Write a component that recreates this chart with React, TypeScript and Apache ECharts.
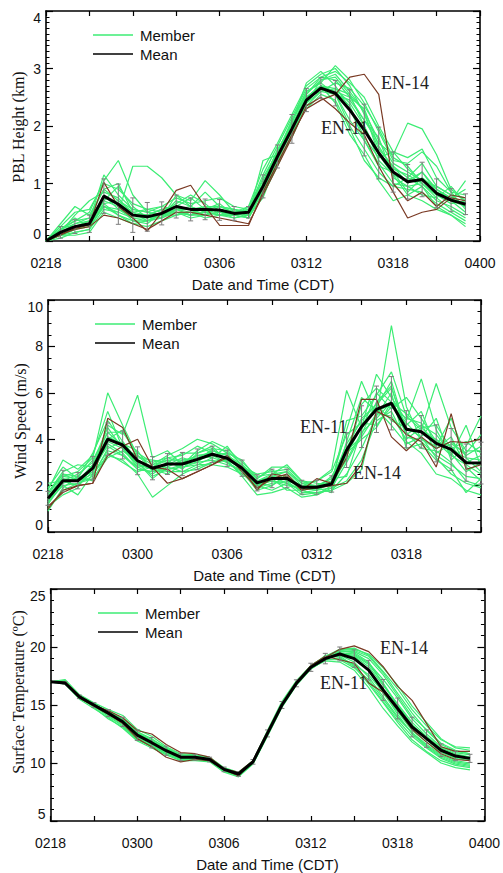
import React, { useEffect, useRef } from "react";
import * as echarts from "echarts";

// ---------- tick labels ----------
const tickHours = [0, 6, 12, 18, 24, 30];
const tickLabels = ["0218", "0300", "0306", "0312", "0318", "0400"];

// ---------- Panel 1 : PBL Height (km) ----------
const pblMean = [0, 0.15, 0.25, 0.3, 0.78, 0.64, 0.45, 0.42, 0.48, 0.6, 0.55, 0.55, 0.54, 0.48, 0.5, 0.95, 1.47, 1.95, 2.45, 2.66, 2.57, 2.28, 1.93, 1.53, 1.2, 1.03, 1.07, 0.83, 0.71, 0.64];
const pblStd = [0, 0.1, 0.12, 0.15, 0.3, 0.35, 0.3, 0.25, 0.2, 0.2, 0.2, 0.18, 0.18, 0.12, 0.1, 0.2, 0.2, 0.25, 0.2, 0.18, 0.22, 0.35, 0.45, 0.45, 0.35, 0.3, 0.3, 0.25, 0.2, 0.18];
const pblEN11 = [0, 0.12, 0.2, 0.25, 0.45, 0.4, 0.3, 0.2, 0.35, 0.5, 0.5, 0.45, 0.4, 0.35, 0.3, 0.8, 1.3, 1.8, 2.35, 2.5, 2.3, 2.05, 1.85, 1.3, 0.85, 0.4, 0.5, 0.55, 0.75, 0.7];
const pblEN14 = [0, 0.1, 0.22, 0.28, 1.02, 0.6, 0.4, 0.17, 0.5, 0.88, 0.97, 0.6, 0.27, 0.27, 0.27, 0.85, 1.35, 1.85, 2.3, 2.45, 2.55, 2.85, 2.9, 2.55, 1.0, 0.7, 0.85, 0.6, 0.8, 0.75];
const pblMembers = [
  [0, 0.2, 0.35, 0.5, 1.05, 1.4, 0.8, 0.5, 0.45, 0.7, 0.6, 0.5, 0.55, 0.45, 0.6, 1.25, 1.7, 2.2, 2.7, 2.9, 3.0, 2.7, 2.2, 1.6, 1.3, 1.0, 1.2, 0.9, 0.75, 0.6],
  [0, 0.1, 0.2, 0.25, 0.6, 0.5, 1.3, 1.3, 1.1, 0.8, 0.6, 0.5, 0.55, 0.5, 0.45, 0.9, 1.4, 2.0, 2.55, 2.85, 2.8, 2.5, 2.1, 1.7, 1.5, 2.05, 1.95, 1.5, 0.9, 0.7],
  [0, 0.3, 0.6, 0.45, 0.9, 1.0, 0.5, 0.35, 0.4, 0.8, 0.7, 1.05, 0.8, 0.5, 0.45, 1.4, 1.5, 2.1, 2.6, 2.75, 3.05, 2.8, 2.4, 1.9, 1.4, 1.35, 1.55, 1.3, 0.85, 0.55],
  [0, 0.15, 0.45, 0.7, 0.85, 0.75, 0.45, 0.45, 0.55, 0.5, 0.45, 0.6, 0.5, 0.45, 0.4, 0.8, 1.3, 1.85, 2.4, 2.7, 2.55, 2.0, 1.6, 1.2, 0.95, 1.1, 0.95, 0.7, 0.6, 0.45],
  [0, 0.05, 0.15, 0.2, 0.55, 0.5, 0.4, 0.35, 0.5, 0.5, 0.4, 0.45, 0.6, 0.5, 0.5, 0.95, 1.5, 1.9, 2.4, 2.8, 2.9, 2.6, 2.25, 1.5, 1.15, 0.8, 0.95, 0.6, 0.45, 0.25],
  [0, 0.25, 0.25, 0.3, 0.7, 0.6, 0.35, 0.3, 0.5, 0.65, 0.8, 0.65, 0.45, 0.5, 0.6, 1.05, 1.55, 2.05, 2.75, 2.95, 2.7, 2.3, 1.75, 1.3, 1.2, 0.85, 1.1, 0.9, 0.7, 1.05],
  [0, 0.2, 0.3, 0.35, 1.15, 0.8, 0.55, 0.5, 0.6, 0.55, 0.5, 0.55, 0.65, 0.45, 0.55, 1.0, 1.6, 2.0, 2.5, 2.6, 2.55, 2.45, 2.1, 1.8, 1.1, 0.95, 0.8, 0.75, 0.95, 0.65],
  [0, 0.1, 0.15, 0.2, 0.65, 0.45, 0.3, 0.25, 0.35, 0.45, 0.5, 0.4, 0.45, 0.4, 0.45, 0.85, 1.35, 1.8, 2.35, 2.6, 2.75, 2.65, 2.35, 1.95, 1.45, 1.3, 1.0, 0.75, 0.55, 0.4],
  [0, 0.15, 0.25, 0.35, 0.7, 0.95, 0.6, 0.4, 0.45, 0.55, 0.6, 0.85, 0.6, 0.55, 0.5, 1.1, 1.55, 2.1, 2.55, 2.8, 2.85, 2.55, 2.0, 1.5, 1.3, 1.1, 1.35, 0.95, 0.8, 0.75],
  [0, 0.1, 0.2, 0.3, 0.8, 0.55, 0.45, 0.45, 0.4, 0.55, 0.45, 0.5, 0.5, 0.55, 0.45, 0.75, 1.4, 1.9, 2.3, 2.55, 2.45, 1.95, 1.4, 1.1, 0.95, 0.9, 0.85, 0.65, 0.5, 0.35],
  [0, 0.2, 0.35, 0.4, 0.9, 0.7, 0.5, 0.55, 0.5, 0.6, 0.55, 0.6, 0.6, 0.5, 0.55, 1.0, 1.5, 2.0, 2.5, 2.7, 2.6, 2.35, 1.8, 1.45, 1.55, 1.25, 1.05, 0.85, 0.7, 0.6],
  [0, 0.1, 0.2, 0.3, 0.65, 0.7, 0.55, 0.5, 0.45, 0.55, 0.55, 0.45, 0.5, 0.5, 0.4, 0.95, 1.45, 1.95, 2.45, 2.65, 2.6, 2.5, 2.3, 1.65, 1.25, 1.15, 1.0, 0.8, 0.65, 0.7],
  [0, 0.2, 0.4, 0.25, 0.6, 0.45, 0.35, 0.35, 0.45, 0.5, 0.45, 0.5, 0.45, 0.45, 0.5, 0.9, 1.45, 2.05, 2.6, 2.75, 2.55, 2.1, 1.75, 1.35, 1.0, 0.95, 1.0, 0.8, 0.7, 0.5],
  [0, 0.1, 0.1, 0.15, 0.5, 0.4, 0.3, 0.35, 0.4, 0.5, 0.45, 0.45, 0.5, 0.4, 0.45, 0.85, 1.5, 1.9, 2.4, 2.6, 2.65, 2.4, 2.0, 1.4, 1.15, 1.05, 1.2, 0.85, 0.75, 0.9],
  [0, 0.25, 0.5, 0.55, 1.0, 0.9, 0.65, 0.55, 0.6, 0.75, 0.65, 0.7, 0.75, 0.6, 0.55, 1.15, 1.65, 2.15, 2.65, 2.85, 2.95, 2.75, 2.5, 2.0, 1.55, 1.45, 1.6, 1.1, 0.85, 0.8],
  [0, 0.1, 0.25, 0.3, 0.6, 0.55, 0.4, 0.4, 0.45, 0.45, 0.5, 0.5, 0.45, 0.45, 0.4, 0.9, 1.4, 1.95, 2.5, 2.7, 2.4, 1.85, 1.5, 1.05, 0.7, 0.8, 0.7, 0.55, 0.45, 0.3],
  [0, 0.15, 0.3, 0.4, 0.75, 0.65, 0.5, 0.45, 0.55, 0.6, 0.75, 0.55, 0.6, 0.55, 0.5, 1.0, 1.55, 2.0, 2.5, 2.7, 2.65, 2.55, 2.25, 1.75, 1.35, 1.2, 1.05, 0.95, 0.8, 0.6],
];

// ---------- Panel 2 : Wind Speed (m/s) ----------
const windMean = [1.45, 2.21, 2.21, 2.75, 4.0, 3.75, 3.07, 2.75, 2.93, 2.93, 3.13, 3.35, 3.18, 2.75, 2.12, 2.31, 2.31, 1.93, 1.93, 2.07, 3.53, 4.54, 5.29, 5.55, 4.43, 4.32, 3.82, 3.56, 2.99, 2.97];
const windStd = [0.3, 0.45, 0.35, 0.5, 0.7, 0.6, 0.6, 0.5, 0.45, 0.5, 0.45, 0.35, 0.35, 0.35, 0.35, 0.4, 0.4, 0.3, 0.3, 0.35, 0.75, 0.9, 1.0, 1.15, 0.8, 0.7, 0.8, 0.9, 0.8, 0.9];
const windEN11 = [1.0, 1.8, 2.0, 2.1, 4.9, 4.5, 3.1, 2.8, 2.7, 2.3, 2.6, 2.9, 3.3, 2.6, 1.9, 2.3, 2.5, 1.8, 2.3, 2.1, 3.2, 5.72, 5.72, 4.1, 3.5, 4.1, 3.6, 3.9, 3.85, 4.0];
const windEN14 = [1.1, 1.7, 2.0, 2.1, 3.3, 3.7, 4.0, 2.8, 2.1, 2.3, 2.6, 2.9, 3.2, 2.8, 1.8, 2.5, 2.4, 1.8, 1.9, 2.0, 2.1, 2.9, 5.2, 4.9, 4.2, 3.9, 2.8, 5.1, 2.7, 2.9];
const windMembers = [
  [1.2, 2.4, 2.6, 3.2, 6.0, 4.6, 3.3, 2.9, 3.1, 2.7, 3.4, 3.6, 3.0, 2.6, 2.0, 2.4, 2.1, 1.8, 1.9, 2.2, 4.4, 6.5, 5.0, 8.9, 5.4, 4.0, 3.7, 4.9, 3.2, 2.6],
  [1.9, 2.8, 2.3, 2.7, 4.6, 4.2, 5.9, 3.2, 3.5, 2.9, 3.0, 3.6, 3.5, 2.9, 2.3, 2.7, 2.2, 2.0, 2.2, 2.7, 6.1, 4.5, 6.8, 5.8, 4.8, 6.6, 4.4, 3.3, 4.6, 2.8],
  [1.5, 2.0, 1.6, 2.5, 3.3, 3.1, 2.5, 1.5, 2.0, 2.5, 2.8, 3.0, 3.1, 2.4, 1.6, 1.7, 1.9, 1.5, 1.6, 1.9, 2.2, 3.1, 4.8, 5.2, 3.9, 3.4, 2.5, 2.3, 1.8, 1.6],
  [2.1, 2.2, 2.5, 3.0, 4.5, 3.6, 2.8, 2.9, 3.3, 3.6, 4.0, 3.8, 3.4, 3.1, 2.3, 2.8, 2.8, 2.2, 2.1, 2.0, 3.2, 5.5, 6.2, 5.6, 4.6, 5.2, 3.6, 3.9, 3.3, 3.7],
  [1.0, 1.8, 2.1, 2.4, 3.6, 3.9, 3.0, 2.4, 2.7, 2.8, 2.9, 3.2, 3.0, 2.6, 1.8, 2.0, 2.4, 1.7, 1.8, 1.9, 3.0, 4.2, 5.6, 6.3, 4.1, 3.9, 3.3, 2.9, 2.4, 2.3],
  [1.6, 2.5, 2.4, 3.1, 4.3, 4.3, 3.4, 3.0, 3.2, 3.3, 3.7, 3.4, 3.2, 2.8, 2.5, 2.6, 2.7, 2.1, 2.0, 2.1, 4.8, 5.0, 5.9, 6.9, 5.0, 4.4, 6.4, 4.5, 3.5, 3.5],
  [1.3, 2.2, 2.0, 2.6, 3.8, 3.4, 2.7, 2.6, 2.8, 3.1, 3.2, 3.3, 3.4, 2.6, 2.0, 2.2, 2.0, 1.9, 1.8, 2.1, 3.4, 4.0, 4.5, 5.6, 4.2, 4.6, 4.2, 3.4, 2.6, 3.0],
  [1.8, 3.1, 2.7, 3.3, 5.2, 3.6, 2.9, 2.7, 2.5, 2.9, 3.5, 3.9, 3.6, 3.0, 2.4, 2.5, 2.9, 2.2, 1.9, 2.4, 3.6, 4.9, 5.5, 4.8, 4.5, 4.1, 4.9, 3.1, 3.7, 5.0],
  [1.1, 1.6, 1.9, 2.9, 4.1, 3.8, 3.5, 2.6, 3.0, 2.8, 3.0, 3.1, 2.9, 2.7, 1.9, 2.1, 2.2, 1.7, 1.7, 1.8, 2.5, 3.6, 5.0, 6.0, 3.6, 3.8, 3.1, 2.7, 1.7, 2.3],
  [1.4, 2.3, 2.2, 2.5, 3.5, 3.3, 2.8, 2.5, 2.9, 3.2, 3.0, 3.5, 3.3, 2.9, 2.2, 2.4, 2.3, 2.0, 1.9, 1.7, 3.9, 5.8, 5.2, 5.5, 4.7, 4.0, 3.6, 4.1, 2.8, 2.2],
  [1.7, 2.6, 2.9, 2.8, 4.0, 4.4, 3.2, 3.1, 3.0, 3.4, 3.4, 3.7, 3.0, 2.5, 2.1, 2.0, 2.5, 1.9, 2.0, 2.3, 2.4, 4.4, 6.0, 5.3, 5.8, 4.9, 3.9, 3.7, 3.0, 3.3],
  [0.9, 1.9, 2.4, 2.2, 3.4, 3.0, 2.6, 2.8, 2.6, 2.6, 2.7, 3.0, 3.2, 2.7, 1.9, 2.3, 1.8, 1.8, 1.6, 2.0, 3.3, 4.6, 5.4, 6.5, 4.3, 3.6, 3.5, 3.0, 2.2, 2.0],
  [1.5, 2.4, 2.3, 3.4, 4.8, 3.9, 3.1, 2.8, 3.2, 3.0, 3.3, 3.2, 3.7, 2.8, 2.2, 2.5, 2.6, 2.1, 2.2, 2.6, 4.2, 4.7, 4.6, 5.4, 4.9, 4.7, 3.4, 3.8, 3.4, 4.2],
  [1.3, 2.0, 2.1, 2.3, 3.2, 3.5, 3.0, 2.3, 2.8, 2.6, 2.9, 2.9, 2.8, 2.5, 2.0, 1.8, 2.1, 1.6, 1.7, 1.8, 2.1, 2.7, 5.3, 4.6, 3.8, 4.1, 3.2, 2.5, 2.1, 1.9],
  [1.2, 2.1, 2.3, 2.6, 3.9, 3.6, 3.3, 2.7, 2.9, 3.0, 3.3, 3.4, 3.1, 2.7, 2.0, 2.3, 2.3, 1.9, 1.8, 2.2, 3.8, 4.8, 5.5, 6.2, 4.4, 4.3, 4.0, 3.5, 3.2, 3.1],
  [1.7, 2.5, 2.2, 2.9, 4.3, 3.7, 2.9, 2.8, 3.1, 3.1, 3.2, 3.5, 3.3, 2.8, 2.2, 2.4, 2.6, 2.0, 2.0, 2.2, 3.1, 4.3, 4.9, 5.6, 5.1, 4.5, 4.6, 3.6, 3.9, 3.4],
  [1.4, 2.2, 2.0, 2.8, 3.7, 3.3, 2.7, 2.6, 2.7, 2.9, 3.1, 3.3, 3.0, 2.6, 2.1, 2.2, 2.1, 1.8, 1.9, 2.1, 3.5, 4.1, 5.1, 5.0, 4.0, 4.5, 3.9, 3.3, 2.9, 2.5],
];

// ---------- Panel 3 : Surface Temperature (ºC) ----------
const tempMean = [17.0, 16.9, 15.7, 15.0, 14.3, 13.55, 12.4, 11.75, 11.06, 10.5, 10.5, 10.3, 9.45, 9.05, 10.1, 12.55, 15.0, 16.87, 18.25, 19.0, 19.4, 19.0, 18.0, 16.3, 14.7, 13.1, 12.1, 11.1, 10.6, 10.4];
const tempStd = [0, 0.1, 0.15, 0.2, 0.3, 0.4, 0.45, 0.45, 0.4, 0.3, 0.25, 0.2, 0.2, 0.2, 0.2, 0.3, 0.3, 0.3, 0.35, 0.45, 0.6, 0.75, 0.85, 0.9, 0.9, 0.85, 0.75, 0.55, 0.4, 0.35];
const tempEN11 = [17.0, 17.0, 15.8, 15.0, 14.5, 13.9, 12.8, 12.5, 11.6, 10.9, 10.8, 10.5, 9.5, 9.2, 10.2, 12.7, 15.1, 17.0, 18.4, 19.2, 18.9, 18.6, 16.9, 16.1, 14.6, 12.9, 11.8, 10.8, 10.3, 10.2];
const tempEN14 = [17.0, 16.9, 15.6, 14.9, 14.2, 13.4, 12.1, 11.4, 10.5, 10.1, 10.3, 10.2, 9.4, 8.9, 10.2, 12.6, 15.0, 16.8, 18.2, 19.1, 19.8, 20.1, 19.6, 18.3, 16.6, 15.4, 13.4, 11.4, 11.0, 11.0];
const tempMembers = [
  [17.0, 17.2, 15.9, 15.2, 14.6, 14.1, 12.9, 12.3, 11.4, 10.8, 10.7, 10.5, 9.6, 9.2, 10.2, 12.8, 15.3, 17.1, 18.4, 19.2, 19.8, 19.9, 19.3, 17.9, 16.4, 14.6, 13.2, 12.0, 11.4, 11.3],
  [17.0, 17.0, 15.8, 15.1, 14.4, 13.4, 12.2, 11.6, 10.9, 10.4, 10.4, 10.2, 9.3, 8.9, 10.0, 12.4, 14.9, 16.8, 18.2, 19.3, 19.1, 18.3, 16.8, 15.2, 13.5, 12.0, 11.0, 10.2, 9.8, 9.6],
  [17.0, 16.8, 15.5, 14.7, 13.9, 13.0, 11.9, 11.3, 10.7, 10.2, 10.2, 10.1, 9.2, 8.8, 9.9, 12.3, 14.8, 16.7, 18.1, 18.9, 19.5, 19.4, 18.6, 17.2, 15.6, 13.8, 12.5, 11.4, 10.9, 10.7],
  [17.0, 17.1, 15.8, 15.0, 14.2, 13.7, 12.6, 11.9, 11.2, 10.6, 10.6, 10.4, 9.5, 9.1, 10.2, 12.6, 15.1, 16.9, 18.3, 19.1, 19.3, 18.7, 17.4, 15.7, 14.0, 12.6, 11.6, 10.7, 10.2, 10.0],
  [17.0, 16.9, 15.6, 14.9, 14.5, 13.8, 12.7, 12.0, 11.3, 10.7, 10.6, 10.4, 9.5, 9.0, 10.1, 12.6, 15.0, 16.9, 18.2, 19.0, 19.6, 19.6, 19.0, 17.6, 15.8, 14.0, 12.9, 11.7, 11.1, 10.8],
  [17.0, 16.9, 15.7, 14.8, 13.8, 13.1, 12.0, 11.4, 10.8, 10.3, 10.3, 10.2, 9.4, 8.9, 10.0, 12.5, 14.9, 16.8, 18.2, 18.8, 18.7, 18.0, 16.5, 14.7, 13.2, 11.8, 10.9, 10.0, 9.6, 9.4],
  [17.0, 17.0, 15.8, 15.1, 14.3, 13.6, 12.5, 11.8, 11.1, 10.6, 10.5, 10.3, 9.5, 9.1, 10.1, 12.5, 15.0, 16.9, 18.3, 19.1, 19.4, 19.2, 18.3, 16.7, 15.1, 13.5, 12.3, 11.3, 10.8, 10.5],
  [17.0, 16.9, 15.6, 15.0, 14.4, 13.6, 12.3, 11.6, 11.0, 10.5, 10.5, 10.3, 9.4, 9.0, 10.1, 12.7, 15.2, 17.0, 18.4, 19.2, 19.7, 19.5, 18.7, 16.8, 14.9, 13.2, 12.0, 11.0, 10.5, 10.3],
  [17.0, 17.0, 15.7, 15.0, 14.1, 13.3, 12.1, 11.5, 10.9, 10.3, 10.4, 10.2, 9.3, 8.9, 10.0, 12.4, 14.9, 16.8, 18.1, 18.9, 18.9, 18.2, 17.2, 15.5, 13.9, 12.6, 11.5, 10.6, 10.1, 9.9],
  [17.0, 16.9, 15.6, 14.9, 14.2, 13.5, 12.4, 11.8, 11.1, 10.5, 10.4, 10.3, 9.5, 9.0, 10.1, 12.6, 15.0, 16.9, 18.3, 19.0, 19.5, 19.1, 18.0, 16.0, 14.4, 12.8, 11.8, 10.9, 10.4, 10.2],
  [17.0, 17.0, 15.7, 15.0, 14.4, 13.7, 12.6, 11.9, 11.2, 10.6, 10.5, 10.3, 9.5, 9.1, 10.1, 12.6, 15.1, 17.0, 18.2, 19.1, 19.8, 19.7, 19.2, 17.8, 16.0, 14.3, 12.8, 11.6, 11.0, 10.8],
  [17.0, 17.0, 15.8, 15.1, 14.3, 13.5, 12.4, 11.7, 11.0, 10.4, 10.4, 10.3, 9.4, 9.0, 10.0, 12.5, 15.0, 16.8, 18.2, 18.9, 19.0, 18.5, 17.6, 16.1, 14.2, 12.5, 11.4, 10.5, 10.0, 9.8],
  [17.0, 17.0, 15.7, 14.9, 14.0, 13.2, 12.0, 11.5, 10.8, 10.3, 10.3, 10.2, 9.3, 8.9, 10.0, 12.4, 14.9, 16.8, 18.2, 19.0, 19.4, 19.3, 18.5, 16.9, 15.0, 13.3, 12.2, 11.2, 10.7, 10.5],
  [17.0, 16.9, 15.7, 15.0, 14.3, 13.6, 12.5, 11.8, 11.0, 10.5, 10.5, 10.3, 9.4, 9.0, 10.1, 12.6, 15.1, 16.9, 18.3, 19.1, 19.2, 18.4, 17.0, 15.3, 13.7, 12.3, 11.3, 10.4, 9.9, 9.7],
  [17.0, 17.1, 15.8, 15.1, 14.4, 13.8, 12.7, 12.1, 11.3, 10.7, 10.6, 10.4, 9.5, 9.0, 10.1, 12.6, 15.1, 17.0, 18.3, 19.1, 19.7, 19.8, 19.4, 18.2, 16.7, 14.9, 13.5, 12.1, 11.3, 11.1],
];

const SANS = "'Liberation Sans', Arial, Helvetica, sans-serif";
const SERIF = "'Liberation Serif', 'Times New Roman', serif";
const GREEN = "#3ded74";
const BROWN = "#7a3a24";

type Panel = {
  grid: { left: number; top: number; width: number; height: number };
  xMax: number;
  yMin: number;
  yMax: number;
  yInterval: number;
  yMinorSplit: number;
  yTitle: string;
  yTitleX: number;
  yTitleY: number;
  mean: number[];
  std: number[];
  members: number[][];
  en11: number[];
  en14: number[];
  legendX: number;
  legendY: number;
  en11Pos: [number, number];
  en14Pos: [number, number];
};

const panels: Panel[] = [
  {
    grid: { left: 46, top: 11, width: 434, height: 230 },
    xMax: 30, yMin: 0, yMax: 4, yInterval: 1, yMinorSplit: 10,
    yTitle: "PBL Height (km)", yTitleX: 18, yTitleY: 127,
    mean: pblMean, std: pblStd, members: pblMembers, en11: pblEN11, en14: pblEN14,
    legendX: 93, legendY: 35, en11Pos: [321, 128], en14Pos: [381, 83],
  },
  {
    grid: { left: 48, top: 300, width: 433, height: 232 },
    xMax: 29, yMin: 0, yMax: 10, yInterval: 2, yMinorSplit: 4,
    yTitle: "Wind Speed (m/s)", yTitleX: 20, yTitleY: 421,
    mean: windMean, std: windStd, members: windMembers, en11: windEN11, en14: windEN14,
    legendX: 95, legendY: 324, en11Pos: [300, 427], en14Pos: [353, 473],
  },
  {
    grid: { left: 50.5, top: 589, width: 434, height: 232 },
    xMax: 30, yMin: 5, yMax: 25, yInterval: 5, yMinorSplit: 5,
    yTitle: "Surface Temperature (ºC)", yTitleX: 18, yTitleY: 692,
    mean: tempMean, std: tempStd, members: tempMembers, en11: tempEN11, en14: tempEN14,
    legendX: 98, legendY: 613, en11Pos: [320, 683], en14Pos: [380, 648],
  },
];

const xLabel = (v: number) => {
  const i = tickHours.indexOf(Math.round(v));
  return i >= 0 && Math.abs(v - tickHours[i]) < 1e-6 ? tickLabels[i] : "";
};

const toPairs = (arr: number[]) => arr.map((v, i) => [i, v]);

export default function App() {
  const ref = useRef<HTMLDivElement>(null);
  useEffect(() => {
    if (!ref.current) return;
    const chart = echarts.init(ref.current, undefined, { renderer: "svg" });

    const grids: any[] = [];
    const xAxes: any[] = [];
    const yAxes: any[] = [];
    const series: any[] = [];
    const graphics: any[] = [];

    const axisLine = { show: true, onZero: false, lineStyle: { color: "#000", width: 1.6 } };

    panels.forEach((p, k) => {
      grids.push({ ...p.grid, containLabel: false });
      const xBase = {
        type: "value", gridIndex: k, min: 0, max: p.xMax, interval: 3,
        axisLine, splitLine: { show: false },
        axisTick: { show: true, inside: true, length: 5, lineStyle: { color: "#000", width: 1.2 } },
        minorTick: { show: false },
      };
      xAxes.push({
        ...xBase, position: "bottom",
        axisLabel: { show: true, formatter: xLabel, margin: 15, fontSize: 14, color: "#111", fontFamily: SANS, showMaxLabel: true },
        name: "Date and Time (CDT)", nameLocation: "middle", nameGap: 36,
        nameTextStyle: { fontSize: 15, color: "#111", fontFamily: SANS },
      });
      xAxes.push({ ...xBase, position: "top", axisLabel: { show: false } });
      const yBase = {
        type: "value", gridIndex: k, min: p.yMin, max: p.yMax, interval: p.yInterval,
        axisLine, splitLine: { show: false },
        axisTick: { show: true, inside: true, length: 7, lineStyle: { color: "#000", width: 1.2 } },
        minorTick: { show: true, splitNumber: p.yMinorSplit, length: 3.5, lineStyle: { color: "#000", width: 1 } },
      };
      yAxes.push({
        ...yBase, position: "left",
        axisLabel: {
          show: true, margin: 5, fontSize: 14, color: "#111", fontFamily: SANS,
          verticalAlignMaxLabel: "top", verticalAlignMinLabel: "bottom",
        },
      });
      yAxes.push({ ...yBase, position: "right", axisLabel: { show: false } });

      const xi = k * 2;
      const yi = k * 2;
      p.members.forEach((m, j) => {
        series.push({
          type: "line", name: `Member ${k}-${j}`, xAxisIndex: xi, yAxisIndex: yi,
          data: toPairs(m), symbol: "none", silent: true, z: 2,
          lineStyle: { color: GREEN, width: 1.2 },
        });
      });
      [p.en11, p.en14].forEach((m, j) => {
        series.push({
          type: "line", name: j === 0 ? "EN-11" : "EN-14", xAxisIndex: xi, yAxisIndex: yi,
          data: toPairs(m), symbol: "none", silent: true, z: 3,
          lineStyle: { color: BROWN, width: 1.2 },
        });
      });
      series.push({
        type: "custom", name: `err-${k}`, xAxisIndex: xi, yAxisIndex: yi, z: 4, silent: true,
        data: p.mean.map((v, i) => [i, v - p.std[i], v + p.std[i]]).filter((d, i) => p.std[i] > 0),
        encode: { x: 0, y: [1, 2] },
        renderItem: (_params: any, api: any) => {
          const x = api.value(0);
          const lo = api.coord([x, api.value(1)]);
          const hi = api.coord([x, api.value(2)]);
          const w = 2.5;
          const st = { stroke: "#7d7d7d", lineWidth: 1 };
          return {
            type: "group",
            children: [
              { type: "line", shape: { x1: lo[0], y1: lo[1], x2: hi[0], y2: hi[1] }, style: st },
              { type: "line", shape: { x1: lo[0] - w, y1: lo[1], x2: lo[0] + w, y2: lo[1] }, style: st },
              { type: "line", shape: { x1: hi[0] - w, y1: hi[1], x2: hi[0] + w, y2: hi[1] }, style: st },
            ],
          };
        },
      });
      series.push({
        type: "line", name: "Mean", xAxisIndex: xi, yAxisIndex: yi,
        data: toPairs(p.mean), symbol: "none", silent: true, z: 5,
        lineStyle: { color: "#000", width: 3 },
      });

      // legend
      graphics.push(
        { type: "line", shape: { x1: p.legendX, y1: p.legendY, x2: p.legendX + 40, y2: p.legendY }, style: { stroke: GREEN, lineWidth: 1.6 }, z: 10 },
        { type: "text", x: p.legendX + 47, y: p.legendY, style: { text: "Member", fontSize: 15, fontFamily: SANS, fill: "#111", textVerticalAlign: "middle" }, z: 10 },
        { type: "line", shape: { x1: p.legendX, y1: p.legendY + 19, x2: p.legendX + 40, y2: p.legendY + 19 }, style: { stroke: "#000", lineWidth: 1.6 }, z: 10 },
        { type: "text", x: p.legendX + 47, y: p.legendY + 19, style: { text: "Mean", fontSize: 15, fontFamily: SANS, fill: "#111", textVerticalAlign: "middle" }, z: 10 },
      );
      // annotations
      graphics.push(
        { type: "text", x: p.en11Pos[0], y: p.en11Pos[1], style: { text: "EN-11", fontSize: 18, fontFamily: SERIF, fill: "#222", textVerticalAlign: "middle" }, z: 10 },
        { type: "text", x: p.en14Pos[0], y: p.en14Pos[1], style: { text: "EN-14", fontSize: 18, fontFamily: SERIF, fill: "#222", textVerticalAlign: "middle" }, z: 10 },
      );
      // y title
      graphics.push({
        type: "text", x: p.yTitleX, y: p.yTitleY, rotation: Math.PI / 2,
        style: { text: p.yTitle, fontSize: 16, fontFamily: SERIF, fill: "#111", textAlign: "center", textVerticalAlign: "middle" },
        z: 10,
      });
    });

    chart.setOption({
      animation: false,
      backgroundColor: "#fff",
      grid: grids,
      xAxis: xAxes,
      yAxis: yAxes,
      series,
      graphic: graphics,
    });
    return () => chart.dispose();
  }, []);

  return <div ref={ref} style={{ position: "fixed", left: 0, top: 0, width: 503, height: 873 }} />;
}
